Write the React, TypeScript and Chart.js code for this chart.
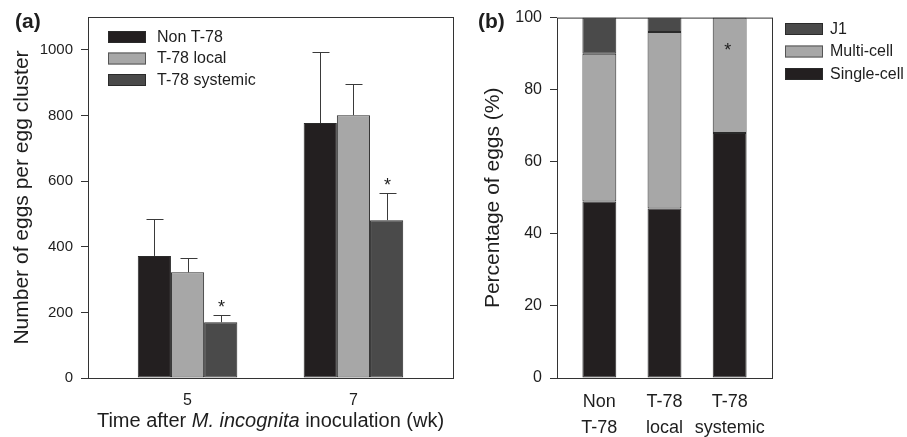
import React, { useEffect, useRef } from "react";
import { Chart, registerables } from "chart.js";

Chart.register(...registerables);

const FONT = '"Liberation Sans", Arial, Helvetica, sans-serif';

// ---------- Panel (a) data ----------
const weeks = [5, 7];
const seriesNamesA = ["Non T-78", "T-78 local", "T-78 systemic"];
const nonT78 = [372, 777];
const nonT78Err = [112, 216];
const t78Local = [322, 801];
const t78LocalErr = [45, 96];
const t78Systemic = [170, 481];
const t78SystemicErr = [21, 83];
const systemicStars = [true, true];
const yTicksA = [0, 200, 400, 600, 800, 1000];

// ---------- Panel (b) data ----------
const groupLabelsB = [
  ["Non", "T-78"],
  ["T-78", "local"],
  ["T-78", "systemic"],
];
const singleCell = [49, 47, 68];
const multiCell = [41, 49, 32];
const j1 = [10, 4, 0];
const starsB = [false, false, true];
const starValueB = 92;
const yTicksB = [0, 20, 40, 60, 80, 100];

const C_BLACK = "#231f20";
const C_LIGHT = "#a7a7a7";
const C_DARK = "#4a4a4a";
const C_EDGE = "#2a2a2a";
const C_AXIS = "#333333";
const C_TEXT = "#1e1e1e";

function drawFrame(ctx: CanvasRenderingContext2D, ca: any) {
  ctx.save();
  ctx.strokeStyle = C_AXIS;
  ctx.lineWidth = 1;
  ctx.strokeRect(ca.left + 0.5, ca.top + 0.5, ca.right - ca.left, ca.bottom - ca.top);
  ctx.restore();
}

function drawLegend(
  ctx: CanvasRenderingContext2D,
  items: { label: string; color: string; border: string }[],
  boxX: number,
  firstTop: number,
  step: number,
  textX: number
) {
  ctx.save();
  ctx.font = `16px ${FONT}`;
  ctx.textBaseline = "middle";
  ctx.textAlign = "left";
  items.forEach((it, i) => {
    const top = firstTop + i * step;
    ctx.fillStyle = it.color;
    ctx.fillRect(boxX, top, 38, 12);
    ctx.strokeStyle = it.border;
    ctx.lineWidth = 1;
    ctx.strokeRect(boxX + 0.5, top + 0.5, 37, 11);
    ctx.fillStyle = C_TEXT;
    ctx.fillText(it.label, textX, top + 6.5);
  });
  ctx.restore();
}

const pluginA = {
  id: "decorA",
  afterDatasetsDraw(chart: any) {
    const ctx: CanvasRenderingContext2D = chart.ctx;
    const ca = chart.chartArea;
    const y = chart.scales.y;
    const vals = [nonT78, t78Local, t78Systemic];
    const errs = [nonT78Err, t78LocalErr, t78SystemicErr];
    ctx.save();
    ctx.strokeStyle = "#3a3a3a";
    ctx.lineWidth = 1;
    errs.forEach((errArr, di) => {
      const meta = chart.getDatasetMeta(di);
      meta.data.forEach((bar: any, i: number) => {
        const top = Math.round(y.getPixelForValue(vals[di][i] + errArr[i])) + 0.5;
        const x = Math.round(bar.x) + 0.5;
        ctx.beginPath();
        ctx.moveTo(x, bar.y);
        ctx.lineTo(x, top);
        ctx.moveTo(x - 8, top);
        ctx.lineTo(x + 9, top);
        ctx.stroke();
        if (di === 2 && systemicStars[i]) {
          ctx.fillStyle = C_TEXT;
          ctx.font = `18px ${FONT}`;
          ctx.textAlign = "center";
          ctx.textBaseline = "alphabetic";
          ctx.fillText("*", x, top - 3);
        }
      });
    });
    ctx.restore();
    drawFrame(ctx, ca);

    drawLegend(
      ctx,
      [
        { label: seriesNamesA[0], color: C_BLACK, border: C_EDGE },
        { label: seriesNamesA[1], color: C_LIGHT, border: "#555" },
        { label: seriesNamesA[2], color: C_DARK, border: C_EDGE },
      ],
      108,
      31,
      21.5,
      157
    );

    ctx.save();
    ctx.fillStyle = C_TEXT;
    ctx.font = `bold 21px ${FONT}`;
    ctx.textAlign = "left";
    ctx.textBaseline = "alphabetic";
    ctx.fillText("(a)", 15, 28);
    ctx.save();
    ctx.translate(22, (ca.top + ca.bottom) / 2);
    ctx.rotate(-Math.PI / 2);
    ctx.font = `21px ${FONT}`;
    ctx.textAlign = "center";
    ctx.textBaseline = "middle";
    ctx.fillText("Number of eggs per egg cluster", 0, 0);
    ctx.restore();
    const parts = [
      { t: "Time after ", f: `20px ${FONT}` },
      { t: "M. incognita", f: `italic 20px ${FONT}` },
      { t: " inoculation (wk)", f: `20px ${FONT}` },
    ];
    let total = 0;
    parts.forEach((p) => {
      ctx.font = p.f;
      total += ctx.measureText(p.t).width;
    });
    let xx = (ca.left + ca.right) / 2 - total / 2;
    ctx.textAlign = "left";
    parts.forEach((p) => {
      ctx.font = p.f;
      ctx.fillText(p.t, xx, 427);
      xx += ctx.measureText(p.t).width;
    });
    ctx.restore();
  },
};

const pluginB = {
  id: "decorB",
  afterDatasetsDraw(chart: any) {
    const ctx: CanvasRenderingContext2D = chart.ctx;
    const ca = chart.chartArea;
    const y = chart.scales.y;
    const meta = chart.getDatasetMeta(0);
    ctx.save();
    ctx.fillStyle = C_TEXT;
    ctx.font = `18px ${FONT}`;
    ctx.textAlign = "center";
    ctx.textBaseline = "alphabetic";
    meta.data.forEach((bar: any, i: number) => {
      if (starsB[i]) {
        ctx.fillText("*", bar.x - 2, y.getPixelForValue(starValueB) + 10);
      }
    });
    ctx.restore();
    drawFrame(ctx, ca);

    drawLegend(
      ctx,
      [
        { label: "J1", color: C_DARK, border: C_EDGE },
        { label: "Multi-cell", color: C_LIGHT, border: "#555" },
        { label: "Single-cell", color: C_BLACK, border: C_EDGE },
      ],
      325,
      23,
      22.5,
      370
    );

    ctx.save();
    ctx.fillStyle = C_TEXT;
    ctx.font = `bold 21px ${FONT}`;
    ctx.textAlign = "left";
    ctx.textBaseline = "alphabetic";
    ctx.fillText("(b)", 18, 28);
    ctx.save();
    ctx.translate(33, (ca.top + ca.bottom) / 2);
    ctx.rotate(-Math.PI / 2);
    ctx.font = `21px ${FONT}`;
    ctx.textAlign = "center";
    ctx.textBaseline = "middle";
    ctx.fillText("Percentage of eggs (%)", 0, 0);
    ctx.restore();
    ctx.restore();
  },
};

function PanelA() {
  const ref = useRef<HTMLCanvasElement>(null);
  useEffect(() => {
    if (!ref.current) return;
    const mk = (vals: number[]) => vals.map((v, i) => ({ x: weeks[i], y: v }));
    const chart = new Chart(ref.current, {
      type: "bar",
      data: {
        datasets: [
          { label: seriesNamesA[0], data: mk(nonT78), backgroundColor: C_BLACK, borderColor: C_EDGE, borderWidth: 1, borderSkipped: false },
          { label: seriesNamesA[1], data: mk(t78Local), backgroundColor: C_LIGHT, borderColor: C_EDGE, borderWidth: 1, borderSkipped: false },
          { label: seriesNamesA[2], data: mk(t78Systemic), backgroundColor: C_DARK, borderColor: C_EDGE, borderWidth: 1, borderSkipped: false },
        ] as any,
      },
      options: {
        animation: false,
        responsive: false,
        layout: { padding: { top: 15, right: 7, left: 0, bottom: 0 } },
        datasets: { bar: { barPercentage: 1, categoryPercentage: 0.6 } } as any,
        plugins: { legend: { display: false }, tooltip: { enabled: false } },
        scales: {
          x: {
            type: "linear",
            offset: false,
            min: 3.8,
            max: 8.2,
            afterBuildTicks: (s: any) => {
              s.ticks = weeks.map((w) => ({ value: w }));
            },
            afterFit: (s: any) => {
              s.height = 59;
            },
            grid: { display: false, drawTicks: false, offset: false },
            border: { display: false },
            ticks: {
              padding: 13,
              maxRotation: 0,
              minRotation: 0,
              color: C_TEXT,
              font: { family: FONT, size: 16 },
              callback: (v: any) => String(v),
            },
          },
          y: {
            min: 0,
            max: 1100,
            afterBuildTicks: (s: any) => {
              s.ticks = yTicksA.map((v) => ({ value: v }));
            },
            afterFit: (s: any) => {
              s.width = 88;
            },
            grid: { drawOnChartArea: false, drawTicks: true, tickLength: 7, color: C_AXIS },
            border: { display: false },
            ticks: { padding: 8, color: C_TEXT, font: { family: FONT, size: 15 }, callback: (v: any) => String(v) },
          },
        },
      } as any,
      plugins: [pluginA],
    });
    return () => chart.destroy();
  }, []);
  return <canvas ref={ref} width={460} height={437} style={{ position: "absolute", left: 0, top: 0 }} />;
}

function PanelB() {
  const ref = useRef<HTMLCanvasElement>(null);
  useEffect(() => {
    if (!ref.current) return;
    const mk = (vals: number[]) => vals.map((v, i) => ({ x: i, y: v }));
    const common = { borderColor: C_EDGE, borderWidth: 1, borderSkipped: false };
    const chart = new Chart(ref.current, {
      type: "bar",
      data: {
        datasets: [
          { label: "Single-cell", data: mk(singleCell), backgroundColor: C_BLACK, ...common },
          { label: "Multi-cell", data: mk(multiCell), backgroundColor: C_LIGHT, ...common },
          { label: "J1", data: mk(j1), backgroundColor: C_DARK, ...common },
        ] as any,
      },
      options: {
        animation: false,
        responsive: false,
        layout: { padding: { top: 16, right: 135, left: 0, bottom: 0 } },
        datasets: { bar: { barPercentage: 1, categoryPercentage: 0.52 } } as any,
        plugins: { legend: { display: false }, tooltip: { enabled: false } },
        scales: {
          x: {
            type: "linear",
            stacked: true,
            offset: false,
            min: -0.65,
            max: 2.65,
            afterBuildTicks: (s: any) => {
              s.ticks = groupLabelsB.map((_, i) => ({ value: i }));
            },
            afterFit: (s: any) => {
              s.height = 59;
            },
            grid: { display: false, drawTicks: false, offset: false },
            border: { display: false },
            ticks: {
              padding: 11,
              maxRotation: 0,
              minRotation: 0,
              autoSkip: false,
              color: C_TEXT,
              font: { family: FONT, size: 18, lineHeight: 1.45 },
              callback: (v: any) => groupLabelsB[Math.round(v)] ?? "",
            },
          },
          y: {
            stacked: true,
            min: 0,
            max: 100,
            afterBuildTicks: (s: any) => {
              s.ticks = yTicksB.map((v) => ({ value: v }));
            },
            afterFit: (s: any) => {
              s.width = 97;
            },
            grid: { drawOnChartArea: false, drawTicks: true, tickLength: 7, color: C_AXIS },
            border: { display: false },
            ticks: { padding: 8, color: C_TEXT, font: { family: FONT, size: 16 } },
          },
        },
      } as any,
      plugins: [pluginB],
    });
    return () => chart.destroy();
  }, []);
  return <canvas ref={ref} width={447} height={437} style={{ position: "absolute", left: 460, top: 0 }} />;
}

export default function App() {
  return (
    <div style={{ position: "absolute", left: 0, top: 0, width: 907, height: 437, background: "#fff", overflow: "hidden" }}>
      <PanelA />
      <PanelB />
    </div>
  );
}
